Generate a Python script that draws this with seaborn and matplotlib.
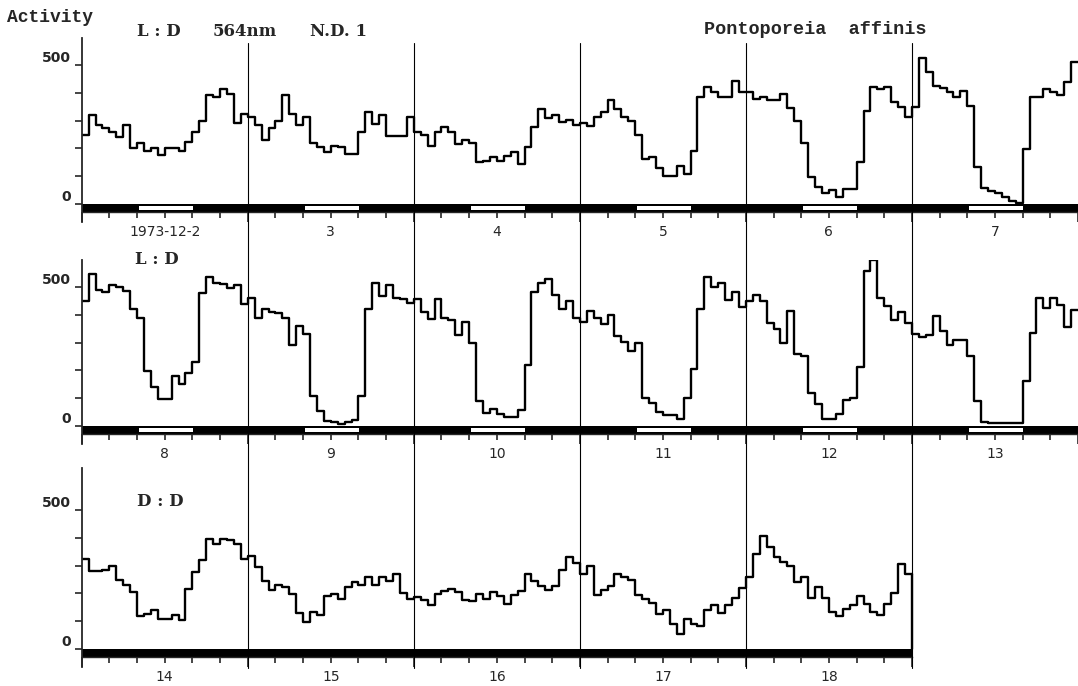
"""
Pontoporeia affinis activity record, three rows of daily step plots
"""

import numpy as np
import pandas as pd
import matplotlib.pyplot as plt
import matplotlib.transforms as mtransforms
from matplotlib.patches import Rectangle
from matplotlib.lines import Line2D
import seaborn as sns

sns.set_style("ticks")
plt.rcParams['font.family'] = ['DejaVu Sans']

# hourly activity counts, one list of 24 values per day
row1_labels = ['1973-12-2', '3', '4', '5', '6', '7']
row1 = [
    [248, 320, 284, 272, 260, 242, 284, 200, 218, 192, 200, 176, 200, 200, 190, 224, 260, 300, 392, 386, 412, 396, 292, 322],
    [314, 284, 230, 272, 300, 392, 322, 284, 314, 218, 206, 188, 210, 206, 180, 180, 260, 332, 288, 320, 245, 245, 245, 312],
    [260, 248, 210, 260, 275, 260, 216, 230, 218, 150, 156, 170, 156, 173, 188, 143, 204, 275, 341, 308, 320, 296, 302, 284],
    [290, 281, 314, 332, 374, 341, 314, 300, 248, 161, 170, 128, 101, 101, 138, 108, 192, 386, 420, 404, 386, 386, 444, 404],
    [404, 377, 384, 374, 374, 395, 344, 300, 221, 96, 60, 38, 50, 26, 53, 53, 152, 336, 422, 413, 422, 365, 350, 314],
    [348, 524, 473, 425, 416, 404, 386, 408, 353, 134, 56, 48, 41, 26, 12, 2, 197, 386, 386, 413, 404, 392, 437, 512],
]

row2_labels = ['8', '9', '10', '11', '12', '13']
row2 = [
    [450, 547, 490, 484, 510, 502, 486, 420, 391, 198, 142, 97, 97, 180, 151, 190, 229, 478, 538, 517, 511, 496, 508, 439],
    [460, 388, 420, 412, 408, 391, 292, 360, 331, 109, 54, 19, 16, 7, 16, 22, 109, 420, 517, 468, 508, 460, 457, 442],
    [457, 412, 384, 457, 391, 382, 328, 376, 298, 90, 48, 60, 43, 31, 31, 58, 220, 484, 516, 529, 472, 420, 451, 391],
    [376, 415, 388, 367, 400, 324, 304, 271, 300, 100, 82, 52, 38, 40, 24, 100, 204, 420, 538, 502, 514, 454, 484, 430],
    [451, 472, 451, 372, 348, 298, 413, 259, 252, 120, 79, 26, 24, 43, 94, 100, 214, 559, 598, 462, 432, 382, 412, 372],
    [331, 319, 328, 396, 343, 292, 310, 310, 252, 91, 16, 10, 10, 10, 10, 10, 163, 334, 463, 424, 463, 436, 358, 418],
]

row3_labels = ['14', '15', '16', '17', '18']
row3 = [
    [324, 282, 282, 285, 300, 249, 231, 207, 120, 127, 139, 108, 108, 121, 103, 215, 276, 320, 398, 378, 398, 394, 378, 323],
    [334, 295, 244, 214, 232, 222, 198, 130, 97, 132, 121, 190, 199, 180, 222, 241, 229, 259, 231, 258, 244, 271, 202, 180],
    [187, 175, 160, 199, 208, 216, 204, 175, 172, 199, 181, 204, 192, 162, 196, 208, 271, 244, 228, 214, 228, 283, 330, 310],
    [271, 300, 193, 214, 228, 270, 259, 249, 193, 180, 165, 127, 139, 91, 54, 109, 91, 81, 139, 157, 129, 157, 183, 219],
    [261, 341, 407, 366, 330, 312, 300, 240, 258, 183, 225, 183, 133, 117, 144, 159, 191, 163, 135, 121, 161, 203, 306, 270],
]

row_conditions = ['L : D', 'L : D', 'D : D']
row_lit = [True, True, False]
light_on, light_off = 8.3, 16.1   # hours of the light phase in L:D
y_ticks = [0, 100, 200, 300, 400, 500]

W, H = 1078, 686
fig = plt.figure(figsize=(W / 100, H / 100), dpi=100)


def px(x, y):
    return x / W, 1 - y / H


def draw_row(ax, days, labels, lit):
    vals = np.concatenate(days)
    n = len(vals)
    df = pd.DataFrame({'hour': np.arange(n + 1), 'activity': np.append(vals, vals[-1])})
    sns.lineplot(data=df, x='hour', y='activity', drawstyle='steps-post', color='black',
                 lw=1.7, estimator=None, sort=True, ax=ax, legend=False)
    if n < 144:
        ax.plot([n, n], [0, vals[-1]], color='black', lw=1.7)

    # light/dark bar under the zero line
    ax.add_patch(Rectangle((0, -28), n, 28, facecolor='black', edgecolor='none', clip_on=False))
    if lit:
        for d in range(len(days)):
            ax.add_patch(Rectangle((24 * d + light_on, -22), light_off - light_on, 15,
                                   facecolor='white', edgecolor='none', clip_on=False))

    ax.set_xlim(0, 144)
    ax.set_xlabel('')
    ax.set_ylabel('')
    for s in ['top', 'right']:
        ax.spines[s].set_visible(False)
    ax.spines['bottom'].set_position(('data', -28))
    ax.spines['bottom'].set_bounds(0, n)
    ax.spines['left'].set_linewidth(1.3)
    ax.spines['bottom'].set_linewidth(1.0)

    ax.set_xticks(np.arange(0, n + 1, 24))
    ax.set_xticks(np.arange(0, n + 1, 4), minor=True)
    ax.set_xticklabels([])
    ax.tick_params(axis='x', which='major', length=7, width=1.2, direction='out')
    ax.tick_params(axis='x', which='minor', length=4, width=1.2, direction='out')

    ax.set_yticks(y_ticks)
    ax.set_yticklabels(['0', '', '', '', '', '500'], fontweight='bold', fontsize=10)
    for t in ax.get_yticklabels():
        t.set_va('bottom')
    ax.tick_params(axis='y', length=5, width=1.2, direction='out', pad=3)

    for d, lab in enumerate(labels):
        ax.text(24 * d + 12, -102, lab, ha='center', va='center', fontsize=10, clip_on=False)


positions = [
    (0.0758, 0.6764, 0.9242, 0.2682, 597),
    (0.0758, 0.3528, 0.9242, 0.2680, 598),
    (0.0758, 0.0277, 0.9242, 0.2900, 652),
]
rows = [row1, row2, row3]
labels = [row1_labels, row2_labels, row3_labels]
axes = []
for i, (l, b, w, h, top) in enumerate(positions):
    ax = fig.add_axes([l, b, w, h])
    ax.set_ylim(-65, top)
    draw_row(ax, rows[i], labels[i], row_lit[i])
    axes.append(ax)

# day separators running through all rows
trans = mtransforms.blended_transform_factory(axes[0].transData, fig.transFigure)
for k in range(1, len(row1_labels)):
    fig.add_artist(Line2D([24 * k, 24 * k], [px(0, 668)[1], px(0, 43)[1]],
                          transform=trans, color='black', lw=0.8))

# header texts
serif = ['DejaVu Serif']
mono = ['Liberation Mono', 'DejaVu Sans Mono']
fig.text(*px(7, 17), 'Activity', fontsize=13, family=mono, fontweight='bold',
         ha='left', va='center')
fig.text(*px(137, 31), 'L : D', fontsize=12, family=serif, fontweight='bold', ha='left', va='center')
fig.text(*px(213, 31), '564nm', fontsize=12, family=serif, fontweight='bold', ha='left', va='center')
fig.text(*px(310, 31), 'N.D. 1', fontsize=12, family=serif, fontweight='bold', ha='left', va='center')
fig.text(*px(704, 29), 'Pontoporeia  affinis', fontsize=13.3, family=mono, fontweight='bold',
         ha='left', va='center')
fig.text(*px(135, 259), row_conditions[1], fontsize=12, family=serif, fontweight='bold',
         ha='left', va='center')
fig.text(*px(137, 501), row_conditions[2], fontsize=12, family=serif, fontweight='bold',
         ha='left', va='center')

fig.savefig('out.png', dpi=100)
